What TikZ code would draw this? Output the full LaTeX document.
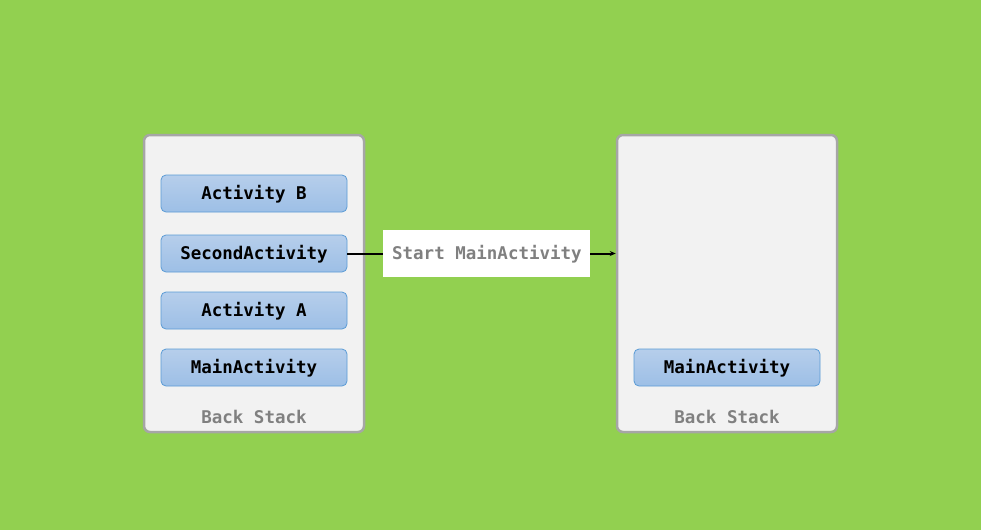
\documentclass[tikz,border=0pt]{standalone}
\usepackage{fontspec}
\setmonofont{DejaVu Sans Mono}
\usetikzlibrary{arrows.meta}
\definecolor{bg}{RGB}{146,208,80}
\definecolor{stackfill}{RGB}{242,242,242}
\definecolor{stackdraw}{RGB}{166,166,166}
\definecolor{acttop}{RGB}{182,206,235}
\definecolor{actbot}{RGB}{157,191,230}
\definecolor{actdraw}{RGB}{91,155,213}
\definecolor{txtgray}{RGB}{128,128,128}
\tikzset{
  monofont/.style={font=\fontsize{17.5}{20}\selectfont\ttfamily\bfseries, text height=12.8pt, text depth=0pt},
  stackbox/.style={draw=stackdraw, line width=2.5pt, fill=stackfill, rounded corners=6pt, minimum width=220pt, minimum height=297pt, inner sep=0pt},
  actbox/.style={draw=actdraw, line width=0.8pt, top color=acttop, bottom color=actbot, rounded corners=5pt, minimum width=186pt, minimum height=37pt, inner sep=0pt, monofont, text=black},
  stacklabel/.style={monofont, text=txtgray, inner sep=0pt},
  startlabel/.style={fill=white, minimum width=207pt, minimum height=47pt, inner sep=0pt, monofont, text=txtgray},
}
\begin{document}
\begin{tikzpicture}[x=1pt,y=-1pt]
\fill[bg] (0,0) rectangle (981,530);
\useasboundingbox (0,0) rectangle (981,530);
\node[stackbox] (left) at (254,283.5) {};
\node[stackbox] (right) at (727,283.5) {};
\node[actbox] (b) at (254,193.5) {Activity B};
\node[actbox] (second) at (254,253.5) {SecondActivity};
\node[actbox] (a) at (254,310.5) {Activity A};
\node[actbox] (main) at (254,367.5) {MainActivity};
\node[actbox] (main2) at (727,367.5) {MainActivity};
\node[stacklabel] (ls) at (254,417) {Back Stack};
\node[stacklabel] (rs) at (727,417) {Back Stack};
\coordinate (rin) at (right.west |- second.east);
\draw[line width=2pt, -{Stealth[length=6pt,width=5pt]}] (second.east) -- (rin)
  node[startlabel, pos=0.52] (start) {Start MainActivity};
\end{tikzpicture}
\end{document}
